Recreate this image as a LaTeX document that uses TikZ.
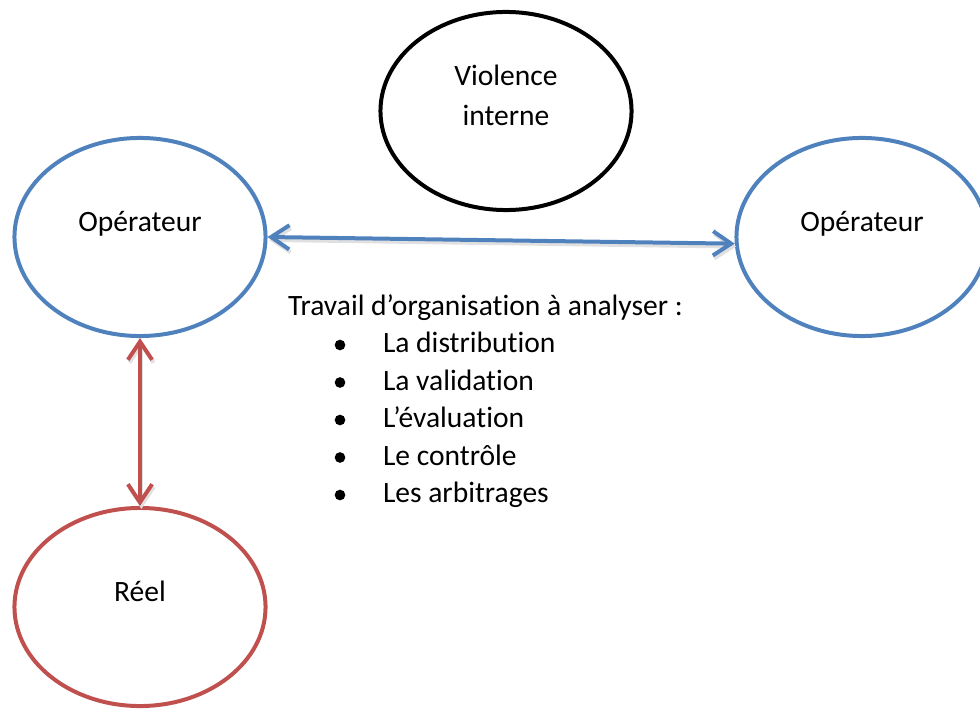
\documentclass[tikz,border=0pt]{standalone}
\usepackage{fontspec}
\setmainfont{Carlito}[Ligatures=NoCommon]
\usetikzlibrary{shapes.geometric,arrows.meta}
\definecolor{opblue}{HTML}{4F81BD}
\definecolor{reelred}{HTML}{C0504D}
\begin{document}
\begin{tikzpicture}[x=0.413pt, y=0.413pt, line width=1.65pt,
  oval node/.style={ellipse,draw,minimum width=103.7pt,minimum height=81.8pt,inner sep=0pt},
  blue node/.style={oval node,draw=opblue},
  red node/.style={oval node,draw=reelred},
  black node/.style={oval node,draw=black},
  two heads/.style={{Straight Barb[length=7.5pt,width=10pt]}-{Straight Barb[length=7.5pt,width=10pt]},line cap=round,
    preaction={draw=black!12,transform canvas={shift={(0.6pt,-1.2pt)}}}}]%
\useasboundingbox (0,0) rectangle (980,708);
\begin{scope}[every node/.style={font=\fontsize{12.2}{16.5}\selectfont},
  every label/.style={align=center}]
\node[black node,label={[yshift=6.6pt]center:{Violence\\interne}}] (viol) at (506,597) {};
\node[blue node,label={[yshift=5.6pt]center:Opérateur}] (opL) at (140,471) {};
\node[blue node,label={[yshift=5.6pt]center:Opérateur}] (opR) at (862,471) {};
\node[red node,label={[yshift=6.4pt]center:Réel}] (reel) at (140,101) {};
%\node[] () at (,) {};
\node[anchor=base west,inner sep=0pt] (travail) at (286,393) {Travail d’organisation à analyser :};
\foreach \entry [count=\i from 0] in {La distribution,La validation,L’évaluation,Le contrôle,Les arbitrages} {
  \node[anchor=base west,inner sep=0pt] (entry\i) at (381,355.5-37.5*\i) {\entry};
  \fill (340,363-37.5*\i) circle (2.2pt);
}
\end{scope}
\begin{scope}
\draw[two heads,opblue] (opL.east) -- (opR.183);
\draw[two heads,reelred] (opL.south) -- (reel.north);
\end{scope}
\end{tikzpicture}
\end{document}
